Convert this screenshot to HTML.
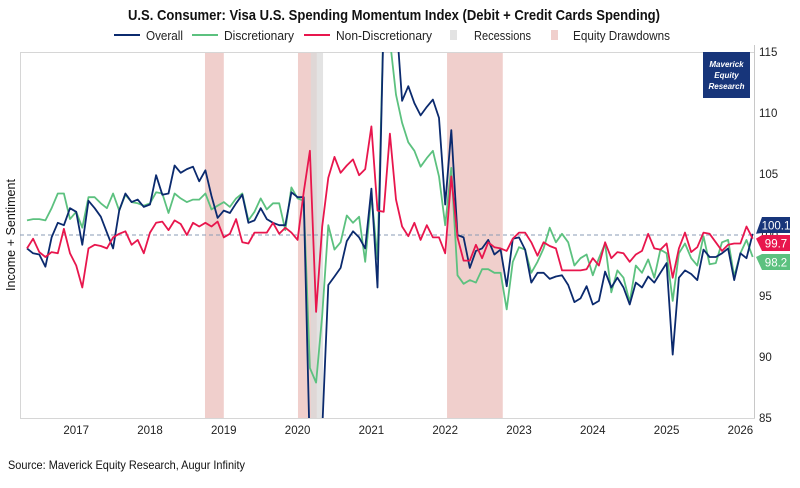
<!DOCTYPE html>
<html><head><meta charset="utf-8">
<style>
body{margin:0;background:#fff;}
svg text{font-family:"Liberation Sans",sans-serif;}
</style></head>
<body>
<svg id="chart" width="800" height="483" viewBox="0 0 800 483" xmlns="http://www.w3.org/2000/svg">
<rect width="800" height="483" fill="#fff"/>
<text x="128" y="20" textLength="532" lengthAdjust="spacingAndGlyphs" font-size="15" font-weight="bold" fill="#111">U.S. Consumer: Visa U.S. Spending Momentum Index (Debit + Credit Cards Spending)</text>
<g font-size="13" fill="#222">
 <g><line x1="114" y1="35" x2="140" y2="35" stroke="#0b2a6e" stroke-width="2"/><text x="146" y="40" textLength="37" lengthAdjust="spacingAndGlyphs">Overall</text></g>
 <g><line x1="192" y1="35" x2="218" y2="35" stroke="#5cc17f" stroke-width="2"/><text x="224" y="40" textLength="70" lengthAdjust="spacingAndGlyphs">Discretionary</text></g>
 <g><line x1="304" y1="35" x2="330" y2="35" stroke="#e8164d" stroke-width="2"/><text x="336" y="40" textLength="96" lengthAdjust="spacingAndGlyphs">Non-Discretionary</text></g>
 <g><rect x="450" y="30" width="7" height="10" fill="#e3e3e3"/><text x="474" y="40" textLength="57" lengthAdjust="spacingAndGlyphs">Recessions</text></g>
 <g><rect x="551" y="30" width="7" height="10" fill="#f0cfcc"/><text x="573" y="40" textLength="97" lengthAdjust="spacingAndGlyphs">Equity Drawdowns</text></g>
</g>
<g id="shading"></g>
<line x1="20.5" y1="52" x2="20.5" y2="418" stroke="#d6d6d6"/>
<line x1="20" y1="52.5" x2="755" y2="52.5" stroke="#d6d6d6"/>
<line x1="20" y1="418.5" x2="755" y2="418.5" stroke="#d6d6d6"/>
<line x1="754.5" y1="45" x2="754.5" y2="418" stroke="#c8c8c8"/>
<g id="ticks" font-size="11.5" fill="#222"></g>
<line id="refline" x1="20" x2="754" stroke="#8a9bb5" stroke-dasharray="4,3" stroke-width="1"/>
<defs><clipPath id="pc"><rect x="20" y="52" width="735" height="366"/></clipPath></defs>
<g id="lines" clip-path="url(#pc)"></g>
<g>
 <rect x="703" y="52" width="47" height="46" fill="#17357a"/>
 <text x="726.5" y="67" text-anchor="middle" font-size="8" font-weight="bold" font-style="italic" fill="#fff">Maverick</text>
 <text x="726.5" y="78" text-anchor="middle" font-size="8" font-weight="bold" font-style="italic" fill="#fff">Equity</text>
 <text x="726.5" y="89" text-anchor="middle" font-size="8" font-weight="bold" font-style="italic" fill="#fff">Research</text>
</g>
<g id="endlabels" font-size="11.5"></g>
<text transform="translate(15,235) rotate(-90)" text-anchor="middle" font-size="13" textLength="112" lengthAdjust="spacingAndGlyphs" fill="#111">Income + Sentiment</text>
<text x="8" y="469" font-size="12" textLength="237" lengthAdjust="spacingAndGlyphs" fill="#111">Source: Maverick Equity Research, Augur Infinity</text>
</svg>
<script>
const startYear = 2016 + 4/12;
const yearTicks = [2017,2018,2019,2020,2021,2022,2023,2024,2025,2026];
const valueTicks = [85,90,95,100,105,110,115];
const drawdowns = [[2018.745,2019.0],[2020.005,2020.26],[2022.025,2022.78]];
const recessions = [[2020.18,2020.345]];
const overall = [98.9,98.5,98.4,97.4,99.8,101,100.8,102.2,101.9,99.2,102.8,102.2,101.5,100.2,98.9,102,103.4,102.7,102.9,102.3,102.5,104.9,103.3,103.4,105.7,105.1,105.4,105.6,104.4,105.3,103.2,101.4,102.0,101.8,102.6,103.3,101.0,101.2,102.2,101.3,101.0,100.8,100.8,103.5,103.1,103.1,82,82,84,95.9,96.6,97.3,99.5,100.3,99.8,98.9,103.8,95.7,118,118,118,111,112.2,110.8,109.8,110.5,111.1,109.6,102.5,108.6,100,99.8,97.3,98.7,98.9,99.6,98.4,98.8,95.8,99.7,99.8,98.8,96.1,96.9,96.9,96.4,96.6,96.7,95.9,94.5,94.8,95.8,94.3,94.6,97.0,95.7,96.5,95.7,94.3,96.1,95.7,96.6,96.1,96.9,97.7,90.2,96.5,97.1,96.8,96.3,98.8,98.2,98.2,98.5,98.9,96.3,98.5,98.1,100.1];
const discretionary = [101.2,101.3,101.3,101.2,102.2,103.4,103.4,101.3,101.9,100.6,103.1,103.1,102.6,102.2,103.4,102,103.3,102.7,102.6,102.4,102.6,103.5,103.4,101.8,103.4,103.0,102.7,102.9,102.9,103.4,102.1,102.4,102.7,102.3,103.0,103.4,101.2,101.9,103.0,102.1,102.6,102.6,100.4,103.9,103.0,102.8,89.1,87.9,93.4,100.8,98.8,99.4,101.6,101.0,101.5,97.8,103.3,98.0,118,116,111.5,109.2,107.6,106.9,105.6,106.3,106.9,104.8,100.8,105.5,96.7,96.0,96.3,96.1,97.2,97.2,96.9,96.9,93.9,97.8,99.0,98.8,96.9,97.8,98.9,100.6,99.4,100.1,99.4,97.5,98.1,98.4,96.7,98.1,99.3,95.3,97.1,96.5,94.5,97.5,96.9,98.0,96.5,98.8,98.5,94.6,98.5,99.3,98.1,97.5,99.9,97.6,97.7,99.4,99.6,96.6,98.5,99.6,98.2];
const nonDiscretionary = [98.9,99.7,98.6,98.2,98.6,98.5,100.5,98.5,97.5,95.7,98.9,99.2,99.1,98.9,99.8,100.1,100.3,99.2,99.6,98.5,100.2,101,101.1,100.4,101.2,100.9,100.0,101,100.7,101,100.7,101.1,99.8,100.1,101.3,99.4,99.3,100.2,100.2,100.2,101,100.1,100.6,100.2,99.6,103.5,106.9,93.7,100.7,104.7,106.4,105.1,105.7,106.2,104.9,105.4,108.9,102.0,101.9,108.3,102.9,100.7,99.9,101.0,99.6,100.8,99.8,99.8,98.5,104.8,99.8,97.9,97.9,99.2,98.1,99.4,99.0,98.9,98.7,99.7,100.2,100.2,99.4,98.3,99.4,99.1,98.9,97.1,97.1,97.1,97.1,97.2,98.1,97.5,99.4,98.1,98.6,98.5,97.8,98.4,98.7,100.1,98.9,98.8,99.3,96.5,98.9,100.2,98.6,99.0,100.2,100.1,99.4,98.7,99.2,99.3,99.3,100.7,99.7];

const NS='http://www.w3.org/2000/svg';
function xs(yr){return 297.6+(yr-2020)*73.8;}
function ys(v){return 418-(v-85)*(366/30);}
function mk(tag,attrs,parent){const e=document.createElementNS(NS,tag);for(const k in attrs)e.setAttribute(k,attrs[k]);parent.appendChild(e);return e;}

const sh=document.getElementById('shading');
drawdowns.forEach(d=>{
  const r=mk('rect',{x:xs(d[0]),y:52,width:xs(d[1])-xs(d[0]),height:366,fill:'#f0cfcc'},sh);
  
  
});
recessions.forEach(d=>{
  const r=mk('rect',{x:xs(d[0]),y:52,width:xs(d[1])-xs(d[0]),height:366,fill:'#d9d9d9','fill-opacity':0.75},sh);
  
  
});

const tk=document.getElementById('ticks');
yearTicks.forEach(y=>{
  const t=mk('text',{x:xs(y),y:434,'text-anchor':'middle'},tk);t.textContent=y;
  
  
});
valueTicks.forEach(v=>{
  const t=mk('text',{x:759,y:ys(v)+4},tk);t.textContent=v;
  
  
});
const rl=document.getElementById('refline');rl.setAttribute('y1',ys(100));rl.setAttribute('y2',ys(100));

const lg=document.getElementById('lines');
function series(arr,color,name){
  const pts=arr.map((v,i)=>xs(startYear+i/12).toFixed(1)+','+ys(v).toFixed(1)).join(' ');
  const p=mk('polyline',{points:pts,fill:'none',stroke:color,'stroke-width':1.8,'stroke-linejoin':'round'},lg);
  
  
}
series(discretionary,'#5cc17f','discretionary-line');
series(overall,'#0b2a6e','overall-line');
series(nonDiscretionary,'#e8164d','non-discretionary-line');

const el=document.getElementById('endlabels');
function endLabel(arr,color,name,yc){
  const v=arr[arr.length-1];
  const yv=ys(v);
  const g=mk('g',{},el);
  
  
  mk('path',{d:`M756,${yv} L762,${yc-8} L790,${yc-8} L790,${yc+8} L762,${yc+8} Z`,fill:color},g);
  const t=mk('text',{x:776,y:yc+4.5,'text-anchor':'middle',fill:'#fff'},g);t.textContent=v.toFixed(1);
}
endLabel(overall,'#17357a','end-label-overall',225);
endLabel(nonDiscretionary,'#e8164d','end-label-non-discretionary',243);
endLabel(discretionary,'#5cc17f','end-label-discretionary',262);
</script>
</body></html>
